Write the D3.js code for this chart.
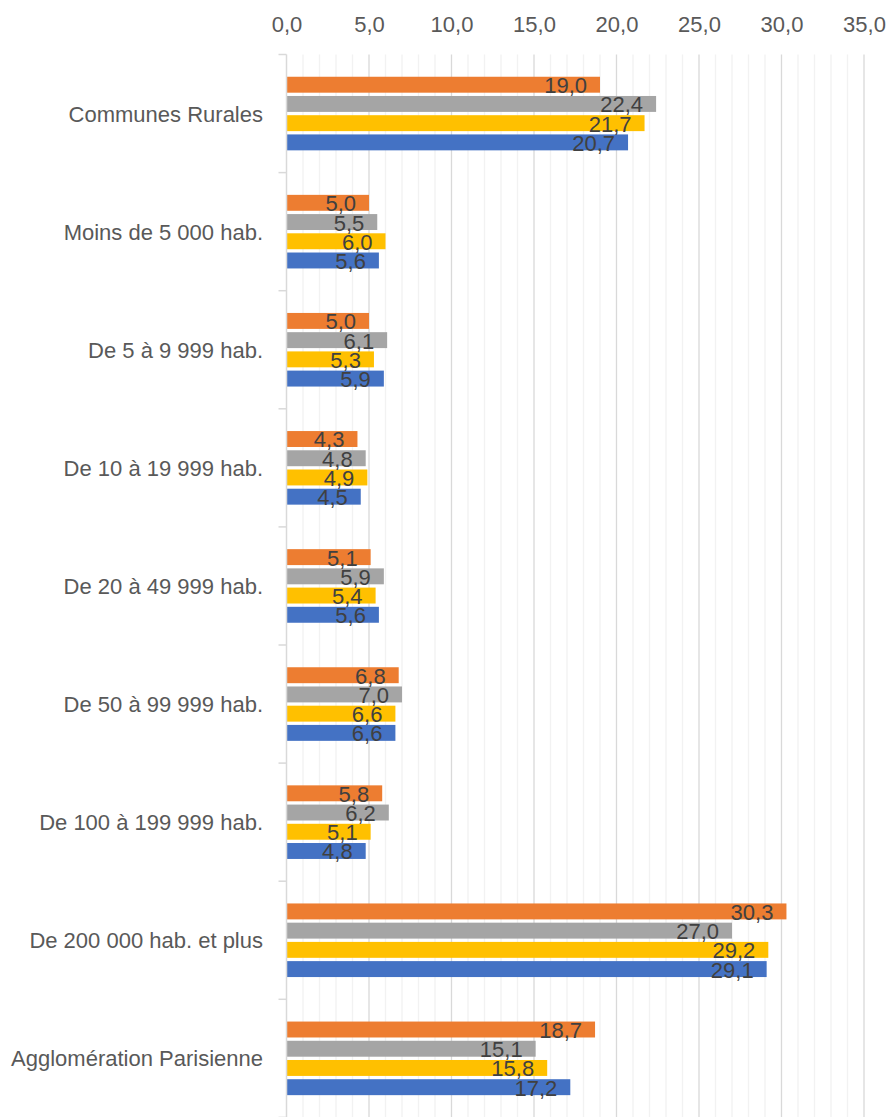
<!DOCTYPE html>
<html>
<head>
<meta charset="utf-8">
<script src="https://cdn.jsdelivr.net/npm/d3@7"></script>
<style>
  body { margin: 0; background: #fff; }
  text { font-family: "Liberation Sans", Arial, sans-serif; }
</style>
</head>
<body>
<script>
var width = 892,
    height = 1117;

var margin = {top: 54.5, left: 286.5, right: 28},
    plotBottom = 1117.4;

// categories, top to bottom
var categories = [
    "Communes Rurales",
    "Moins de 5 000 hab.",
    "De 5 à 9 999 hab.",
    "De 10 à 19 999 hab.",
    "De 20 à 49 999 hab.",
    "De 50 à 99 999 hab.",
    "De 100 à 199 999 hab.",
    "De 200 000 hab. et plus",
    "Agglomération Parisienne"
]

// four series, drawn top to bottom in each group
var seriesOrange = [19.0, 5.0, 5.0, 4.3, 5.1, 6.8, 5.8, 30.3, 18.7]
var seriesGray   = [22.4, 5.5, 6.1, 4.8, 5.9, 7.0, 6.2, 27.0, 15.1]
var seriesYellow = [21.7, 6.0, 5.3, 4.9, 5.4, 6.6, 5.1, 29.2, 15.8]
var seriesBlue   = [20.7, 5.6, 5.9, 4.5, 5.6, 6.6, 4.8, 29.1, 17.2]

var tickValues = [0, 5, 10, 15, 20, 25, 30, 35]

var series = [
    {key: "orange", color: "#ED7D31", values: seriesOrange},
    {key: "gray",   color: "#A5A5A5", values: seriesGray},
    {key: "yellow", color: "#FFC000", values: seriesYellow},
    {key: "blue",   color: "#4472C4", values: seriesBlue}
]

var fmt = function(v) { return d3.format(".1f")(v).replace(".", ",") }

var svg = d3.select("body").append("svg")
    .attr("width", width)
    .attr("height", height);

var xScale = d3.scaleLinear()
    .domain([0, 35])
    .range([margin.left, width - margin.right]);

var yScale = d3.scaleBand()
    .domain(categories)
    .range([margin.top, plotBottom]);

var groupSpan = 73.6,
    inner = d3.scaleBand()
        .domain(series.map(function(s) { return s.key }))
        .range([(yScale.bandwidth() - groupSpan) / 2, (yScale.bandwidth() + groupSpan) / 2])
        .paddingInner(0.171);

// gridlines: minor every 1, major every 5
var minor = d3.range(1, 36).filter(function(d) { return d % 5 != 0 })
svg.append("g").selectAll("line")
    .data(minor)
    .join("line")
    .attr("x1", function(d) { return xScale(d) })
    .attr("x2", function(d) { return xScale(d) })
    .attr("y1", margin.top)
    .attr("y2", height)
    .attr("stroke", "#F2F2F2")
    .attr("stroke-width", 1.3);

svg.append("g").selectAll("line")
    .data(tickValues.slice(1))
    .join("line")
    .attr("x1", function(d) { return xScale(d) })
    .attr("x2", function(d) { return xScale(d) })
    .attr("y1", margin.top)
    .attr("y2", height)
    .attr("stroke", "#D9D9D9")
    .attr("stroke-width", 1.3);

// bars
series.forEach(function(s) {
    var g = svg.append("g");
    g.selectAll("rect")
        .data(s.values)
        .join("rect")
        .attr("x", xScale(0))
        .attr("y", function(d, i) { return yScale(categories[i]) + inner(s.key) })
        .attr("width", function(d) { return xScale(d) - xScale(0) })
        .attr("height", inner.bandwidth())
        .attr("fill", s.color);
})

// value labels (inside end)
series.forEach(function(s) {
    svg.append("g").selectAll("text")
        .data(s.values)
        .join("text")
        .attr("x", function(d) { return xScale(d) - 13 })
        .attr("y", function(d, i) { return yScale(categories[i]) + inner(s.key) + inner.bandwidth() + 0.5 })
        .attr("text-anchor", "end")
        .attr("font-size", 22)
        .attr("fill", "#404040")
        .text(fmt);
})

// category axis line + boundary ticks
svg.append("line")
    .attr("x1", xScale(0)).attr("x2", xScale(0))
    .attr("y1", margin.top).attr("y2", height)
    .attr("stroke", "#D9D9D9")
    .attr("stroke-width", 1.5);

var bounds = categories.map(function(c) { return yScale(c) }).concat([plotBottom])
svg.append("g").selectAll("line")
    .data(bounds)
    .join("line")
    .attr("x1", xScale(0) - 8).attr("x2", xScale(0))
    .attr("y1", function(d) { return d }).attr("y2", function(d) { return d })
    .attr("stroke", "#D9D9D9")
    .attr("stroke-width", 1.5);

// category labels
var axisY = d3.axisLeft(yScale).tickSize(0).tickPadding(23.5);
var gy = svg.append("g")
    .attr("transform", "translate(" + xScale(0) + ",0)")
    .call(axisY);
gy.select(".domain").remove();
gy.selectAll("text")
    .attr("font-family", "Liberation Sans, Arial, sans-serif")
    .attr("font-size", 22)
    .attr("fill", "#595959")
    .attr("dy", "0.37em");

// value axis on top
var axisX = d3.axisTop(xScale).tickValues(tickValues).tickFormat(fmt).tickSize(0).tickPadding(22.5);
var gx = svg.append("g")
    .attr("transform", "translate(0," + margin.top + ")")
    .call(axisX);
gx.select(".domain").remove();
gx.selectAll("text")
    .attr("font-family", "Liberation Sans, Arial, sans-serif")
    .attr("font-size", 22)
    .attr("fill", "#595959");
</script>
</body>
</html>
